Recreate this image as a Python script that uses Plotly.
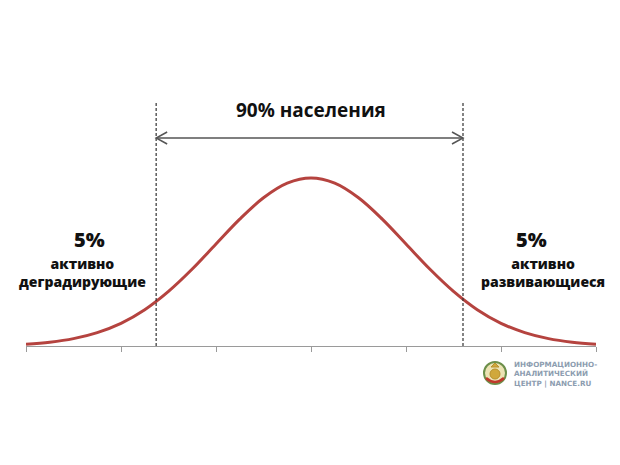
import plotly.graph_objects as go

# Curve values (x in sigma units, height relative to peak)
curve_x = [-3.0, -2.75, -2.5, -2.25, -2.0, -1.75, -1.5, -1.25, -1.0, -0.75, -0.5, -0.25,
           0.0, 0.25, 0.5, 0.75, 1.0, 1.25, 1.5, 1.75, 2.0, 2.25, 2.5, 2.75, 3.0]
curve_y = [0.011, 0.023, 0.044, 0.080, 0.135, 0.216, 0.325, 0.458, 0.607, 0.755, 0.882, 0.969,
           1.0, 0.969, 0.882, 0.755, 0.607, 0.458, 0.325, 0.216, 0.135, 0.080, 0.044, 0.023, 0.011]
tick_vals = [-3, -2, -1, 0, 1, 2, 3]
cut_lines = [-1.63, 1.60]

title_text = "90% населения"
left_pct, left_lines = "5%", ["активно", "деградирующие"]
right_pct, right_lines = "5%", ["активно", "развивающиеся"]
logo_lines = ["ИНФОРМАЦИОННО-", "АНАЛИТИЧЕСКИЙ", "ЦЕНТР | NANCE.RU"]

W, H = 620, 465
L, R, T, B = 26, 24, 0, 119
PW, PH = W - L - R, H - T - B
XPX = PW / 6.0            # px per x unit
YPX = 168.0               # px per y unit
YMAX = PH / YPX

def dx(px):
    return (px - L) / XPX - 3.0

def dy(py):
    return (H - B - py) / YPX

def px_(px):
    return (px - L) / PW

def py_(py):
    return (H - B - py) / PH

fig = go.Figure()
fig.add_trace(go.Scatter(x=curve_x, y=curve_y, mode="lines",
                         line=dict(color="#b5433f", width=3, shape="spline"),
                         hoverinfo="skip", cliponaxis=False))

shapes = []
for c in cut_lines:
    shapes.append(dict(type="line", xref="x", yref="y", x0=c, x1=c, y0=0, y1=dy(103),
                       line=dict(color="#333333", width=1.2, dash="3px,2px")))
# double arrow
ya = dy(138)
xl, xr = cut_lines
shapes.append(dict(type="line", xref="x", yref="y", x0=xl, x1=xr, y0=ya, y1=ya,
                   line=dict(color="#555555", width=1.5)))
hl, hh = 11 / XPX, 6 / YPX
shapes.append(dict(type="path", xref="x", yref="y",
                   path=f"M {xl+hl},{ya+hh} L {xl},{ya} L {xl+hl},{ya-hh}",
                   line=dict(color="#555555", width=1.5)))
shapes.append(dict(type="path", xref="x", yref="y",
                   path=f"M {xr-hl},{ya+hh} L {xr},{ya} L {xr-hl},{ya-hh}",
                   line=dict(color="#555555", width=1.5)))
# logo emblem (paper refs so it is not clipped)
cx, cy, r = 495, 373, 11
shapes.append(dict(type="circle", xref="paper", yref="paper",
                   x0=px_(cx - r), x1=px_(cx + r), y0=py_(cy + r), y1=py_(cy - r),
                   fillcolor="#ece3b4", line=dict(color="#6c8f4a", width=2)))
r2 = 5
shapes.append(dict(type="circle", xref="paper", yref="paper",
                   x0=px_(cx - r2), x1=px_(cx + r2), y0=py_(cy + 1 + r2), y1=py_(cy + 1 - r2),
                   fillcolor="#d0a83c", line=dict(color="#b8902c", width=1)))
shapes.append(dict(type="path", xref="paper", yref="paper",
                   path=f"M {px_(cx-9)},{py_(cy+5)} Q {px_(cx)},{py_(cy+13)} {px_(cx+9)},{py_(cy+5)}",
                   line=dict(color="#c0392b", width=2.5)))
shapes.append(dict(type="path", xref="paper", yref="paper",
                   path=f"M {px_(cx-4)},{py_(cy-6)} L {px_(cx)},{py_(cy-10)} L {px_(cx+4)},{py_(cy-6)} Z",
                   fillcolor="#d0a83c", line=dict(color="#b8902c", width=1)))

annotations = []
def txt(t, px, py, size, color="#111111", weight="bold", family="Open Sans, sans-serif"):
    annotations.append(dict(text=t, x=dx(px), y=dy(py), xref="x", yref="y",
                            showarrow=False, xanchor="center", yanchor="middle",
                            align="center",
                            font=dict(family=family, size=size, color=color, weight=weight)))

txt(title_text, 310.5, 110, 19)
txt(left_pct, 89, 239, 20, weight=800)
txt("<br>".join(left_lines), 82, 272, 14, weight=800)
txt(right_pct, 531.5, 239, 20, weight=800)
txt("<br>".join(right_lines), 543, 272, 14, weight=800)
annotations.append(dict(text="<br>".join(logo_lines), x=px_(512), y=py_(373.5),
                        xref="paper", yref="paper", showarrow=False,
                        xanchor="left", yanchor="middle", align="left",
                        font=dict(family="DejaVu Sans, sans-serif", size=7.2,
                                  color="#8d9db0", weight="bold")))

fig.update_layout(
    width=W, height=H,
    margin=dict(l=L, r=R, t=T, b=B),
    paper_bgcolor="white", plot_bgcolor="white",
    showlegend=False,
    shapes=shapes, annotations=annotations,
    xaxis=dict(range=[-3, 3], showgrid=False, zeroline=False, showline=True,
               linecolor="#9a9a9a", linewidth=1, tickvals=tick_vals, ticks="outside",
               ticklen=5, tickcolor="#9a9a9a", showticklabels=False, fixedrange=True),
    yaxis=dict(range=[0, YMAX], showgrid=False, zeroline=False, showline=False,
               showticklabels=False, ticks="", fixedrange=True),
)

fig.write_html("out.html", config={"displayModeBar": False},
               post_script="document.body.style.margin='0';document.body.style.overflow='hidden';")
